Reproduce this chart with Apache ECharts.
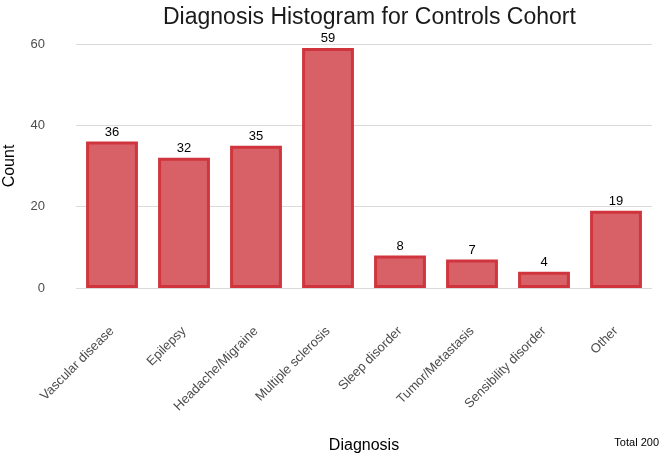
<!DOCTYPE html>
<html>
<head>
<meta charset="utf-8">
<script src="https://cdn.jsdelivr.net/npm/echarts@6/dist/echarts.min.js"></script>
<style>
html,body{margin:0;padding:0;background:#fff;}
#chart{width:662px;height:457px;}
</style>
</head>
<body>
<div id="chart"></div>
<script>
const categories = ["Vascular disease","Epilepsy","Headache/Migraine","Multiple sclerosis","Sleep disorder","Tumor/Metastasis","Sensibility disorder","Other"];
const counts = [36, 32, 35, 59, 8, 7, 4, 19];
const yTicks = [0, 20, 40, 60];
const totalText = "Total 200";

const chart = echarts.init(document.getElementById('chart'), null, {renderer:'canvas'});
const font = '"Liberation Sans", Arial, sans-serif';
chart.setOption({
  animation: false,
  backgroundColor: '#ffffff',
  title: {
    text: 'Diagnosis Histogram for Controls Cohort',
    left: 158, top: 1,
    textStyle: {fontFamily: font, fontSize: 23, fontWeight: 'normal', color: '#1a1a1a'}
  },
  grid: {left: 76, right: 10, top: 44, bottom: 169, containLabel: false, outerBoundsMode: 'none'},
  xAxis: {
    type: 'category',
    data: categories,
    name: 'Diagnosis',
    nameLocation: 'middle',
    nameGap: 150,
    nameTextStyle: {fontFamily: font, fontSize: 16, color: '#000'},
    axisLine: {show: false},
    axisTick: {show: false},
    axisLabel: {rotate: 45, margin: 41, interval: 0, fontFamily: font, fontSize: 13, color: '#4d4d4d'}
  },
  yAxis: {
    type: 'value',
    min: yTicks[0], max: yTicks[yTicks.length-1], interval: 20,
    name: 'Count',
    nameLocation: 'middle',
    nameGap: 58,
    nameTextStyle: {fontFamily: font, fontSize: 16, color: '#000'},
    axisLine: {show: false},
    axisTick: {show: false},
    axisLabel: {margin: 31, fontFamily: font, fontSize: 13, color: '#4d4d4d'},
    splitLine: {lineStyle: {color: '#dadada', width: 1}}
  },
  series: [{
    type: 'bar',
    data: counts,
    barWidth: '72%',
    itemStyle: {color: '#d86168', borderColor: '#d0343c', borderWidth: 3},
    label: {show: true, position: 'top', distance: 3, fontFamily: font, fontSize: 13, color: '#000'}
  }],
  graphic: [{
    type: 'text',
    right: 3, top: 437,
    style: {text: totalText, fontFamily: font, fontSize: 11, fill: '#000'}
  }]
});
</script>
</body>
</html>
